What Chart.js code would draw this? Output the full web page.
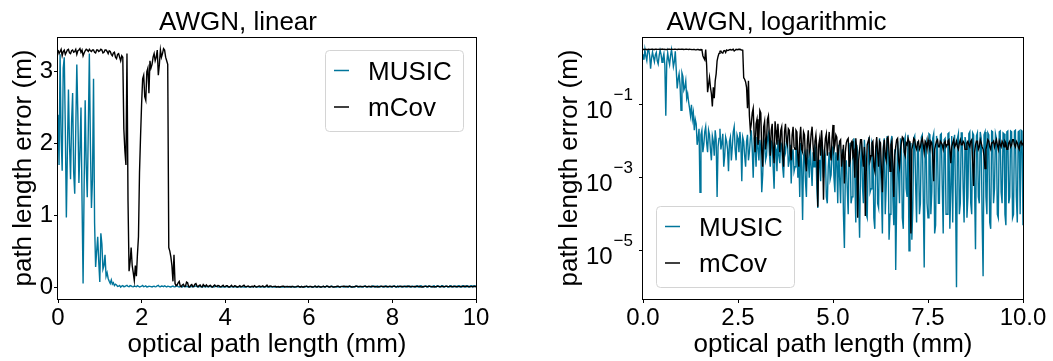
<!DOCTYPE html>
<html lang="en">
<head>
<meta charset="UTF-8">
<title>AWGN path length error</title>
<style>
  body { margin: 0; background: #fff; }
  #wrap { position: relative; width: 1053px; height: 361px; }
  .panel { position: absolute; top: 0; height: 361px; }
  #left { left: 0; width: 530px; }
  #right { left: 530px; width: 523px; }
</style>
</head>
<body>
<div id="wrap">
  <div class="panel" id="left"><canvas id="linChart"></canvas></div>
  <div class="panel" id="right"><canvas id="logChart"></canvas></div>
</div>

<script src="https://cdn.jsdelivr.net/npm/chart.js"></script>
<script>
// sampling grid: optical path length in mm, 0 .. 10 in 0.025 steps
const pathLengthMm = Array.from({ length: 401 }, (_, i) => Math.round(i * 25) / 1000);

// path length error (m); one row = 0.25 mm
const musicError = [
  2.4, 1.7, 3.24, 2.1, 1.62, 3.05, 3.2, 2.2, 0.97, 1.9,
  2.75, 2.0, 1.5, 2.3, 2.7, 1.6, 1.3, 2.2, 3.1, 2.4,
  1.45, 1.9, 2.5, 1.2, 0.05, 1.4, 2.6, 1.7, 1.25, 2.2,
  3.25, 2.0, 1.1, 1.5, 2.9, 0.9, 0.28, 0.5, 0.7, 0.35,
  0.07, 0.75, 0.6, 0.25, 0.3, 0.45, 0.15, 0.2, 0.12, 0.08,
  0.05, 0.1, 0.04, 0.06, 2e-2, 4e-2, 3e-2, 8e-3, 1.2e-2, 2.2e-2,
  4e-4, 1.5e-2, 2e-2, 5e-3, 8e-3, 1.8e-2, 2.5e-2, 9e-3, 5e-3, 2e-2,
  1.5e-2, 6e-3, 3e-3, 1.4e-2, 1e-2, 4e-3, 2e-2, 1.1e-2, 3e-4, 7e-3,
  1.2e-2, 2.2e-2, 6e-3, 9e-3, 1.6e-2, 2e-3, 4e-3, 1.3e-2, 1e-2, 6e-3,
  1.5e-3, 1e-2, 1.3e-2, 3e-3, 7e-3, 1.8e-2, 2.5e-2, 6e-3, 3e-3, 1.5e-2,
  1.2e-2, 5e-3, 1.8e-2, 9e-3, 8e-4, 1.3e-2, 1e-2, 4e-3, 2e-3, 1e-2,
  1.5e-2, 3e-3, 5e-3, 1.2e-2, 2e-2, 6e-3, 1e-3, 1e-2, 8e-3, 2e-3,
  1.3e-2, 7e-3, 3e-3, 1.1e-2, 6e-3, 4e-4, 1.2e-3, 8e-3, 1e-2, 3e-3,
  4e-3, 1.2e-2, 1.6e-2, 5e-3, 2e-3, 1e-2, 9e-3, 2e-3, 5e-4, 8e-3,
  6e-3, 1.5e-3, 1.1e-2, 4e-3, 2.5e-3, 9e-3, 8e-3, 2e-3, 1e-3, 7e-3,
  5e-3, 1e-2, 1.2e-2, 2e-3, 3e-3, 8e-3, 7e-4, 4e-3, 6e-3, 1.5e-3,
  2e-3, 6e-3, 8e-3, 1e-3, 4e-3, 3e-4, 9e-3, 2e-3, 7e-5, 4e-3,
  5e-3, 8e-4, 3e-4, 6e-3, 3e-3, 1e-3, 8e-3, 2e-3, 6e-4, 5e-3,
  2e-3, 7e-3, 6e-3, 5e-4, 1.5e-4, 3e-3, 3e-3, 8e-4, 1e-2, 4e-3,
  1e-3, 6e-3, 4e-3, 3e-4, 2e-4, 2e-3, 5e-3, 9e-4, 1.2e-3, 6e-3,
  7e-3, 1e-3, 4e-4, 5e-3, 3e-3, 2e-4, 8e-3, 1e-3, 2e-4, 4e-3,
  6e-3, 1e-4, 1.2e-5, 1.5e-3, 3e-3, 5e-4, 1e-4, 6e-3, 9e-3, 2e-4,
  3e-4, 4e-3, 1.2e-2, 1e-3, 6e-5, 8e-3, 5e-3, 3e-4, 2.3e-5, 2e-3,
  1e-2, 6e-4, 2e-4, 1.1e-2, 4e-3, 1e-4, 8e-5, 3e-3, 1.3e-2, 4e-4,
  5e-4, 9e-3, 7e-3, 8e-5, 4e-5, 5e-3, 1e-2, 2e-4, 1.5e-4, 1.2e-2,
  2e-3, 4e-4, 3e-5, 7e-3, 1.2e-2, 1e-4, 6e-4, 1.4e-2, 8e-3, 2e-5,
  1e-4, 1e-2, 1.4e-2, 3e-4, 5e-5, 6e-3, 3e-6, 2e-4, 1e-2, 1.3e-3,
  2e-4, 1.2e-2, 6e-3, 8e-5, 4e-5, 1e-2, 1.3e-2, 5e-4, 3e-4, 1.5e-2,
  1e-5, 4e-3, 9e-3, 2e-5, 1.5e-4, 1.2e-2, 1.4e-2, 6e-4, 6e-5, 1e-2,
  5e-3, 1e-4, 2e-4, 1.3e-2, 1.5e-2, 3e-4, 3.5e-6, 8e-3, 1e-2, 2e-4,
  8e-5, 1.6e-2, 1.5e-2, 1e-4, 4e-4, 1.2e-2, 1.6e-2, 3e-5, 5e-5, 1.4e-2,
  7e-3, 2e-4, 2e-4, 1.5e-2, 1.6e-2, 6e-4, 3e-5, 1.1e-2, 1.2e-2, 1e-4,
  1e-4, 1.6e-2, 1.7e-2, 4e-5, 5e-4, 1.4e-2, 6e-5, 8e-3, 1.5e-2, 3e-4,
  1e-6, 1.2e-2, 1.6e-2, 1e-4, 2e-4, 1.7e-2, 1.7e-2, 5e-4, 6e-5, 1.3e-2,
  9e-3, 8e-5, 3e-4, 1.6e-2, 1.8e-2, 2e-4, 1e-4, 1.7e-2, 1.5e-2, 6e-4,
  1.1e-5, 1.4e-2, 1.7e-2, 3e-4, 2e-4, 1.8e-2, 1.2e-2, 7e-5, 2e-6, 1.5e-2,
  1.8e-2, 3e-4, 1e-4, 1.7e-2, 1.5e-2, 6e-5, 4e-5, 1.9e-2, 1.8e-2, 2e-4,
  5e-4, 1.6e-2, 1.2e-2, 1e-4, 8e-5, 1.8e-2, 1.9e-2, 4e-4, 2e-4, 1.7e-2,
  1.6e-2, 1e-4, 5e-5, 1.8e-2, 1.9e-2, 2e-4, 3e-4, 1.9e-2, 1.8e-2, 8e-5,
  1e-4, 1.9e-2, 2e-2, 3e-4, 6e-5, 1.8e-2, 1.9e-2, 1e-4, 2e-2, 1.9e-2,
  5e-5
];
const mcovError = [
  3.3, 3.25, 3.28, 3.31, 3.22, 3.28, 3.3, 3.24, 3.27, 3.3,
  3.31, 3.26, 3.25, 3.29, 3.3, 3.27, 3.28, 3.31, 3.24, 3.29,
  3.3, 3.32, 3.27, 3.3, 3.22, 3.26, 3.29, 3.31, 3.3, 3.28,
  3.31, 3.29, 3.28, 3.3, 3.3, 3.27, 3.26, 3.3, 3.3, 3.28,
  3.29, 3.31, 3.3, 3.26, 3.27, 3.3, 3.3, 3.28, 3.25, 3.29,
  3.28, 3.24, 3.22, 3.26, 3.27, 3.2, 3.18, 3.24, 3.25, 3.2,
  3.15, 3.22, 3.2, 2.2, 1.9, 1.7, 3.25, 1.2, 0.22, 0.35,
  0.55, 0.3, 0.2, 0.09, 0.3, 0.15, 0.45, 0.7, 1.6, 2.1,
  2.55, 2.9, 2.95, 2.65, 2.6, 3.0, 3.05, 2.7, 3.15, 3.05,
  3.1, 3.2, 3.25, 3.15, 3.2, 3.3, 2.95, 3.1, 3.3, 3.2,
  3.25, 3.32, 3.3, 3.2, 3.15, 3.1, 0.55, 0.5, 0.42, 0.3,
  0.08, 0.45, 0.05, 2e-2, 3e-2, 6e-2, 8e-2, 1.5e-2, 5e-3, 3e-2,
  4e-2, 8e-3, 1.2e-2, 7e-2, 6e-2, 5e-3, 2e-3, 2.5e-2, 3.5e-2, 6e-3,
  1e-2, 4e-2, 5e-2, 1.5e-2, 4e-3, 2e-2, 3e-2, 6e-3, 2.5e-3, 3.5e-2,
  2e-2, 8e-3, 3e-2, 1.2e-2, 5e-3, 2e-2, 2.5e-2, 4e-3, 2e-3, 1.8e-2,
  3e-2, 1e-2, 8e-3, 2.2e-2, 2e-2, 5e-3, 3e-3, 1.5e-2, 2.5e-2, 7e-3,
  6e-3, 2e-2, 1.8e-2, 4e-3, 2e-3, 1.2e-2, 2.5e-2, 6e-3, 5e-3, 1.8e-2,
  1.5e-2, 3e-3, 1.5e-3, 1e-2, 2e-2, 5e-3, 7e-3, 1.6e-2, 2.5e-2, 8e-3,
  3e-3, 1e-2, 1.5e-2, 6e-3, 1.6e-4, 8e-3, 1.2e-2, 4e-3, 2e-2, 7e-3,
  2.5e-4, 5e-3, 1.2e-2, 1.6e-2, 4e-3, 9e-3, 1.8e-2, 5e-3, 3e-3, 1.2e-2,
  2.8e-2, 6e-3, 8e-3, 1.5e-2, 1.3e-2, 3e-3, 6e-3, 1e-2, 1.1e-2, 2e-3,
  4e-3, 8e-3, 7e-4, 5e-3, 9e-3, 1.1e-2, 1.2e-2, 2e-3, 3e-3, 9e-3,
  1e-2, 4e-3, 5e-3, 1e-3, 1.2e-2, 6e-3, 8e-5, 3e-3, 6e-3, 1.1e-2,
  1.1e-2, 4e-3, 2e-3, 7e-3, 9e-5, 1.5e-3, 8e-3, 1e-2, 1.2e-2, 3e-3,
  4e-3, 9e-3, 1e-2, 2e-3, 1.5e-3, 7e-3, 1.3e-2, 5e-3, 2e-3, 1e-2,
  9e-3, 1.5e-3, 4e-4, 6e-3, 1.1e-2, 4e-3, 3e-3, 1.2e-2, 1.3e-2, 5e-3,
  1.5e-3, 8e-3, 1e-2, 2.5e-3, 3e-4, 4e-3, 7e-3, 1.1e-2, 1.2e-2, 3e-3,
  2e-3, 6e-3, 9e-3, 1.3e-2, 1.2e-2, 5e-3, 4e-3, 9e-3, 8e-3, 1.2e-2,
  1e-2, 1e-3, 3e-5, 6e-3, 8e-3, 1.2e-2, 1.1e-2, 7e-3, 6e-3, 9e-3,
  1e-2, 6e-3, 7e-3, 1e-2, 1.2e-2, 8e-3, 5e-3, 1e-2, 9e-3, 6e-3,
  1.1e-2, 8e-3, 6e-3, 1e-2, 9e-3, 4e-3, 8e-4, 6e-3, 8e-3, 1e-2,
  1.1e-2, 7e-3, 7e-3, 1e-2, 9e-3, 8e-3, 6e-3, 9e-3, 1e-2, 7e-3,
  8e-3, 1e-2, 1.1e-2, 6e-3, 2.5e-3, 7e-3, 9e-3, 1.1e-2, 7e-3, 8e-3,
  1e-2, 7e-3, 6e-3, 9e-3, 1.1e-2, 8e-3, 8e-3, 1e-2, 9e-3, 6e-3,
  6e-3, 9e-3, 1e-2, 8e-3, 7e-3, 1e-2, 1.1e-2, 3e-3, 6e-4, 5e-3,
  8e-3, 1e-2, 1e-2, 6e-3, 7e-3, 1.1e-2, 9e-3, 7e-3, 6e-3, 4e-3,
  1.8e-3, 6e-3, 8e-3, 1.1e-2, 1e-2, 7e-3, 6e-3, 9e-3, 9e-3, 1e-2,
  7e-3, 9e-3, 1.1e-2, 8e-3, 6e-3, 1e-2, 8e-3, 7e-3, 1e-2, 9e-3,
  7e-3, 1e-2, 9e-3, 6e-3, 6e-3, 9e-3, 1e-2, 7e-3, 8e-3, 1.1e-2,
  1.1e-2, 8e-3, 7e-3, 1e-2, 9e-3, 7e-3, 6e-3, 9e-3, 1e-2, 8e-3,
  9e-3
];

// tick positions
const linXTicks = [0, 2, 4, 6, 8, 10];
const linYTicks = [0, 1, 2, 3];
const logXTicks = [0, 2.5, 5, 7.5, 10];
const logYTicks = [1e-1, 1e-3, 1e-5];

const TEAL = '#00759b';
const FONT = '"Liberation Sans", Arial, sans-serif';
Chart.defaults.font.family = FONT;
Chart.defaults.color = '#000';

function points(values) {
  return pathLengthMm.map((x, i) => ({ x: x, y: values[i] }));
}

function makeDatasets() {
  return [
    { label: 'MUSIC', data: points(musicError), borderColor: TEAL, borderWidth: 1.4, pointRadius: 0, order: 1 },
    { label: 'mCov', data: points(mcovError), borderColor: '#000', borderWidth: 1.4, pointRadius: 0, order: 0 }
  ];
}

// black box round the plot area, like the matplotlib spines
const framePlugin = {
  id: 'frame',
  afterDatasetsDraw(chart) {
    const { ctx, chartArea: a } = chart;
    ctx.save();
    ctx.strokeStyle = '#000';
    ctx.lineWidth = 1;
    ctx.strokeRect(Math.round(a.left) - 0.5, Math.round(a.top) + 0.5,
      Math.round(a.right - a.left) + 1, Math.round(a.bottom - a.top));
    ctx.restore();
  }
};

// legend box placed inside the axes
const boxLegend = {
  id: 'boxLegend',
  afterDraw(chart, args, opts) {
    const { ctx } = chart;
    const x = opts.x, y = opts.y;
    ctx.save();
    ctx.beginPath();
    ctx.roundRect(x + 0.5, y + 0.5, 138, 81, 4);
    ctx.fillStyle = 'rgba(255,255,255,0.8)';
    ctx.fill();
    ctx.strokeStyle = '#d4d4d4';
    ctx.lineWidth = 1;
    ctx.stroke();
    chart.data.datasets.forEach((ds, i) => {
      const rowY = y + 20.5 + i * 36.5;
      ctx.strokeStyle = ds.borderColor;
      ctx.lineWidth = 1.5;
      ctx.beginPath();
      ctx.moveTo(x + 9, rowY);
      ctx.lineTo(x + 24, rowY);
      ctx.stroke();
      ctx.fillStyle = '#000';
      ctx.font = '26px ' + FONT;
      ctx.textAlign = 'left';
      ctx.textBaseline = 'alphabetic';
      ctx.fillText(ds.label, x + 43, y + 29.5 + i * 36.5);
    });
    ctx.restore();
  }
};

// 10^n labels for the log axis
const powerLabels = {
  id: 'powerLabels',
  afterDraw(chart) {
    const { ctx } = chart;
    const scale = chart.scales.y;
    const right = scale.right - 10;
    ctx.save();
    ctx.fillStyle = '#000';
    ctx.textBaseline = 'alphabetic';
    logYTicks.forEach(v => {
      const py = scale.getPixelForValue(v);
      const exp = Math.round(Math.log10(v));
      const sup = (exp < 0 ? '\u2212' : '') + Math.abs(exp);
      ctx.font = '17px ' + FONT;
      const supW = ctx.measureText(sup).width;
      ctx.textAlign = 'left';
      ctx.fillText(sup, right - supW, py - 5);
      ctx.font = '24px ' + FONT;
      ctx.textAlign = 'right';
      ctx.fillText('10', right - supW - 1, py + 13);
    });
    ctx.restore();
  }
};

function tickGrid() {
  return { display: true, drawOnChartArea: false, drawTicks: true, tickLength: 4, color: '#000', lineWidth: 1 };
}

function titleFont() {
  return { family: FONT, size: 26, weight: 'normal', lineHeight: 1.1 };
}

new Chart(document.getElementById('linChart'), {
  type: 'line',
  data: { datasets: makeDatasets() },
  options: {
    animation: false,
    responsive: true,
    maintainAspectRatio: false,
    layout: { padding: { left: 0, right: 54, top: 0, bottom: 0 } },
    plugins: {
      legend: { display: false },
      tooltip: { enabled: false },
      title: { display: true, text: 'AWGN, linear', color: '#000', font: titleFont(), padding: { top: 8.5, bottom: 0 } },
      boxLegend: { x: 325, y: 50 }
    },
    scales: {
      x: {
        type: 'linear', min: 0, max: 10,
        afterBuildTicks: s => { s.ticks = linXTicks.map(v => ({ value: v })); },
        afterFit: s => { s.height = 62; },
        grid: tickGrid(),
        border: { display: false },
        ticks: { font: { size: 24 }, color: '#000', padding: 1, maxRotation: 0, autoSkip: false },
        title: { display: true, text: 'optical path length (mm)', color: '#000', font: { size: 26 }, padding: { bottom: 1 } }
      },
      y: {
        type: 'linear', min: -0.166, max: 3.48,
        afterBuildTicks: s => { s.ticks = linYTicks.map(v => ({ value: v })); },
        afterFit: s => { s.width = 58; },
        grid: tickGrid(),
        border: { display: false },
        ticks: { font: { size: 24 }, color: '#000', padding: 1, autoSkip: false },
        title: { display: true, text: 'path length error (m)', color: '#000', font: { size: 26 }, padding: { top: 8 } }
      }
    }
  },
  plugins: [framePlugin, boxLegend]
});

new Chart(document.getElementById('logChart'), {
  type: 'line',
  data: { datasets: makeDatasets() },
  options: {
    animation: false,
    responsive: true,
    maintainAspectRatio: false,
    layout: { padding: { left: 0, right: 30, top: 0, bottom: 0 } },
    plugins: {
      legend: { display: false },
      tooltip: { enabled: false },
      title: { display: true, text: 'AWGN, logarithmic', color: '#000', font: titleFont(), padding: { top: 8.5, bottom: 0 } },
      boxLegend: { x: 126, y: 206 }
    },
    scales: {
      x: {
        type: 'linear', min: 0, max: 10,
        afterBuildTicks: s => { s.ticks = logXTicks.map(v => ({ value: v })); },
        afterFit: s => { s.height = 62; },
        grid: tickGrid(),
        border: { display: false },
        ticks: { font: { size: 24 }, color: '#000', padding: 1, maxRotation: 0, autoSkip: false, callback: v => v.toFixed(1) },
        title: { display: true, text: 'optical path length (mm)', color: '#000', font: { size: 26 }, padding: { bottom: 1 } }
      },
      y: {
        type: 'logarithmic', min: 4.8e-7, max: 7.1,
        afterBuildTicks: s => { s.ticks = logYTicks.map(v => ({ value: v })); },
        afterFit: s => { s.width = 113; },
        grid: tickGrid(),
        border: { display: false },
        ticks: { font: { size: 24 }, color: '#000', padding: 1, autoSkip: false, callback: () => '' },
        title: { display: true, text: 'path length error (m)', color: '#000', font: { size: 26 }, padding: { top: 24 } }
      }
    }
  },
  plugins: [framePlugin, boxLegend, powerLabels]
});
</script>
</body>
</html>
